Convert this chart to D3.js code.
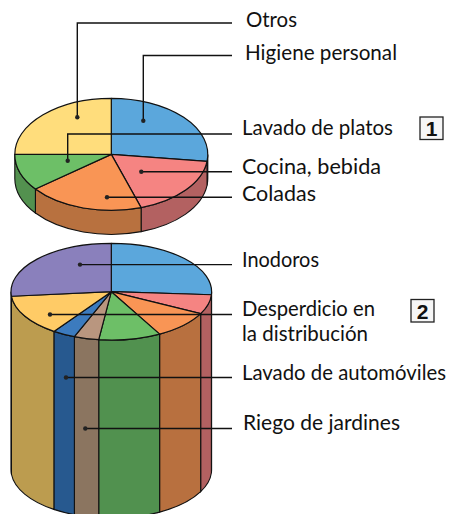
<!DOCTYPE html>
<html><head><meta charset="utf-8">
<script src="https://cdnjs.cloudflare.com/ajax/libs/d3/7.8.5/d3.min.js"></script>
<style>html,body{margin:0;padding:0;background:#fff}svg{display:block}text{font-family:Lato,sans-serif;fill:#111}</style>
</head><body><svg id="c" width="451" height="514"></svg>
<script>
// Data (percent shares)
const topCategories = ["Higiene personal","Cocina, bebida","Coladas","Lavado de platos","Otros"];
const topValues     = [27, 18, 19.4, 10.6, 25];
const topColors     = ["#5BA7DC","#F58482","#F99555","#6DBF67","#FFDD7C"];
const topSides      = ["#4A86B0","#B36161","#B8713F","#53914F","#BC9C4F"];

const botCategories = ["Higiene personal","Cocina, bebida","Coladas","Lavado de platos","Riego de jardines","Lavado de automóviles","Desperdicio en la distribución","Inodoros"];
const botValues     = [26, 6.5, 9.5, 10, 4, 3.7, 13.8, 26.5];
const botColors     = ["#5BA7DC","#F58482","#F99555","#6DBF67","#B9967F","#3C7BBE","#FFCB66","#8A80BC"];
const botSides      = ["#4A86B0","#B36161","#B8703F","#51914F","#8B7560","#27598F","#BC9C4F","#6A6391"];

// Leader annotations: [label lines, dot x, dot y, elbow y (or null), label x, baseline y, line widths]
const leaders = [
  [["Otros"],                        77.3,117.3, 23,  246, 27, [51]],
  [["Higiene personal"],            143.3,120.7, 55.5,245, 60, [152]],
  [["Lavado de platos"],             67.7,160.7, 134, 242, 135,[151]],
  [["Cocina, bebida"],              141.3,171.7, null,242, 174,[139]],
  [["Coladas"],                     107,  197.3, null,242, 201,[74]],
  [["Inodoros"],                     80,  264.6, null,242, 267,[77]],
  [["Desperdicio en","la distribución"],50,314.5,null,242, 316,[133,126]],
  [["Lavado de automóviles"],        66,  377.5, null,242, 380,[204]],
  [["Riego de jardines"],            85.3,428.5, null,243, 430,[157]]
];
const leaderEndX = 232;
const boxes = [["1",420,117],["2",411,299.5]];

const svg = d3.select("#c");
const pie = d3.pie().sort(null).startAngle(0).endAngle(2*Math.PI);
const HALF = Math.PI/2, LOW = 3*Math.PI/2;

function drawDisc(values, colors, sides, g){
  const {cx,cy,rx,ry,depth} = g;
  const P = (a,dy=0)=>[cx+rx*Math.sin(a), cy-ry*Math.cos(a)+dy];
  const arcs = pie(values);
  const layer = svg.append("g");
  layer.selectAll(".wall").data(arcs).join("path")
    .attr("fill",(d,i)=>sides[i]).attr("stroke","#111").attr("stroke-width",1.1)
    .attr("d",d=>{
      const a0=Math.max(d.startAngle,HALF), a1=Math.min(d.endAngle,LOW);
      if(a1<=a0) return null;
      const p=P(a0),q=P(a1),r=P(a1,depth),s=P(a0,depth);
      return `M${p}A${rx},${ry} 0 0 1 ${q}L${r}A${rx},${ry} 0 0 0 ${s}Z`;
    });
  layer.selectAll(".face").data(arcs).join("path")
    .attr("fill",(d,i)=>colors[i]).attr("stroke","#111").attr("stroke-width",1.2).attr("stroke-linejoin","round")
    .attr("d",d=>{
      const large=(d.endAngle-d.startAngle)>Math.PI?1:0;
      return `M${cx},${cy}L${P(d.startAngle)}A${rx},${ry} 0 ${large} 1 ${P(d.endAngle)}Z`;
    });
}
drawDisc(topValues,topColors,topSides,{cx:111.3,cy:154.4,rx:96.5,ry:56,depth:24});
drawDisc(botValues,botColors,botSides,{cx:111.3,cy:291.7,rx:100.3,ry:48.4,depth:178});

const L = svg.append("g");
L.selectAll("path").data(leaders).join("path")
  .attr("fill","none").attr("stroke","#111").attr("stroke-width",1.4)
  .attr("d",d=> d[3]==null ? `M${d[1]},${d[2]}H${leaderEndX}` : `M${d[1]},${d[2]}V${d[3]}H${leaderEndX}`);
L.selectAll("circle").data(leaders).join("circle")
  .attr("cx",d=>d[1]).attr("cy",d=>d[2]).attr("r",2.2).attr("fill","#222");
const T = L.selectAll("g.lab").data(leaders).join("g").attr("class","lab");
T.selectAll("text").data(d=>d[0].map((t,i)=>({t,i,x:d[4],y:d[5]+i*25,w:d[6][i]}))).join("text")
  .attr("x",d=>d.x).attr("y",d=>d.y).attr("font-size",20.5)
  .attr("textLength",d=>d.w).attr("lengthAdjust","spacingAndGlyphs").text(d=>d.t);

const B = svg.selectAll(".box").data(boxes).join("g").attr("class","box");
B.append("rect").attr("x",d=>d[1]).attr("y",d=>d[2]).attr("width",23).attr("height",22.5)
  .attr("fill","#f6f6f6").attr("stroke","#222").attr("stroke-width",1.3);
B.append("text").attr("x",d=>d[1]+11.5).attr("y",d=>d[2]+19).attr("text-anchor","middle")
  .attr("font-size",21).attr("font-weight",700).style("font-family","'Liberation Sans',sans-serif").text(d=>d[0]);
</script></body></html>
